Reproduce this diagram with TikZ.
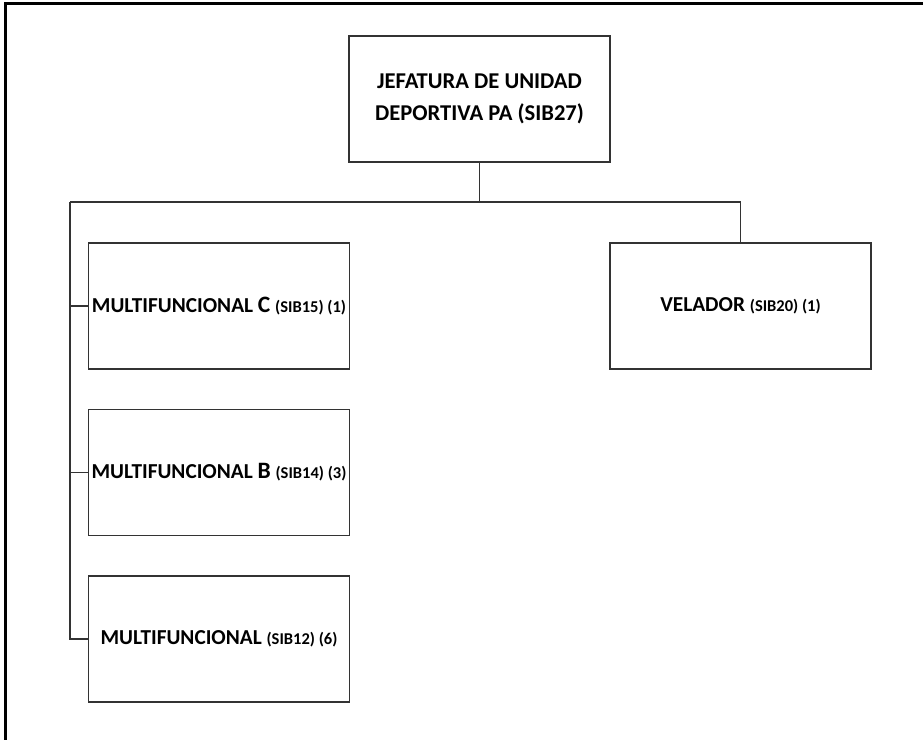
\documentclass[tikz,border=0pt]{standalone}
\usepackage{fontspec}
\setmainfont{Carlito}
\newcommand\clave[1]{{\fontsize{16.5}{18}\selectfont #1}}
\newcommand\letra[1]{{\fontsize{23.5}{24}\selectfont #1}}
\begin{document}
\begin{tikzpicture}[x=1pt,y=-1pt,
    puesto/.style={draw=black!80,line width=1.5pt,minimum width=261pt,minimum height=126pt,
      inner sep=0pt,align=center,font=\bfseries\fontsize{21.3}{24}\selectfont},
    liga/.style={draw=black!80,line width=1.5pt}]
\useasboundingbox (0,0) rectangle (923,740);
\draw[line width=3pt] (923,3.5) -- (5.5,3.5) -- (5.5,740); % marco
\node[puesto,font=\bfseries\fontsize{22.6}{32}\selectfont] (jefe) at (479.5,99) {JEFATURA DE UNIDAD\\DEPORTIVA PA (SIB27)}; % SIB27
\node[puesto] (velador) at (740.5,306) {VELADOR \clave{(SIB20) (1)}}; % SIB20
\node[puesto] (multic) at (219,306) {MULTIFUNCIONAL \letra{C} \clave{(SIB15) (1)}}; % SIB15
\node[puesto] (multib) at (219,472.5) {MULTIFUNCIONAL \letra{B} \clave{(SIB14) (3)}}; % SIB14
\node[puesto] (multi) at (219,639) {MULTIFUNCIONAL \clave{(SIB12) (6)}}; % SIB12
\coordinate (busL) at (70,202); % barra
\coordinate (busR) at (velador.north |- busL); % barra
\draw[liga] (jefe.south) -- (jefe.south |- busL) ; % jefe
\draw[liga] (busL) -- (busR) -- (velador.north) ; % velador
\draw[liga] (busL) |- (multi.west) ; % multi
\draw[liga] (busL |- multic.west) -- (multic.west) ; % multic
\draw[liga] (busL |- multib.west) -- (multib.west) ; % multib
\end{tikzpicture}
\end{document}
